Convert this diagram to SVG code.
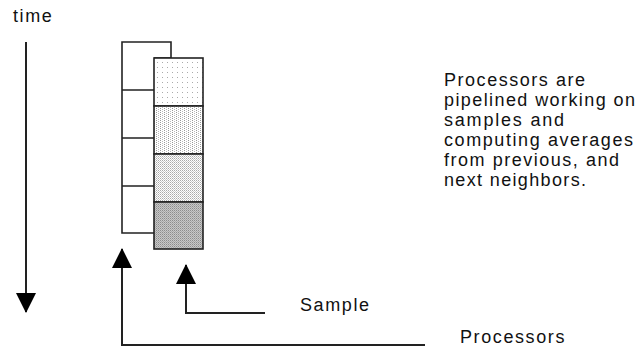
<svg xmlns="http://www.w3.org/2000/svg" width="638" height="348" viewBox="0 0 638 348">
  <style>
    .lbl { font-family: "Liberation Sans", Arial, sans-serif; font-size: 18px; letter-spacing: 1.6px; fill: #111; }
    .para { font-family: "Liberation Sans", Arial, sans-serif; font-size: 18px; fill: #111; }
    .box { fill: none; stroke: #222; stroke-width: 1.6; }
    .cell { stroke: #222; stroke-width: 1.6; }
    .conn { fill: none; stroke: #222; stroke-width: 2; }
  </style>
  <defs>
    <marker id="head" viewBox="0 0 20 20" markerUnits="userSpaceOnUse" markerWidth="20" markerHeight="20" refX="19" refY="10" orient="auto">
      <path d="M0,0 L20,10 L0,20 z" fill="#000"/>
    </marker>
    <!-- shading patterns, light to dark -->
    <pattern id="dots1" width="5" height="5" patternUnits="userSpaceOnUse">
      <rect width="5" height="5" fill="#fff"/>
      <rect x="2" y="2" width="1" height="1" fill="#aaa"/>
    </pattern>
    <pattern id="dots2" width="4" height="2" patternUnits="userSpaceOnUse">
      <rect width="4" height="2" fill="#fff"/>
      <rect x="0" y="0" width="1" height="1" fill="#999"/>
      <rect x="2" y="1" width="1" height="1" fill="#bbb"/>
    </pattern>
    <pattern id="dots3" width="2" height="2" patternUnits="userSpaceOnUse">
      <rect width="2" height="2" fill="#fff"/>
      <rect x="0" y="0" width="1" height="1" fill="#aaa"/>
      <rect x="1" y="1" width="1" height="1" fill="#ccc"/>
    </pattern>
    <pattern id="dots4" width="2" height="2" patternUnits="userSpaceOnUse">
      <rect width="2" height="2" fill="#c8c8c8"/>
      <rect x="0" y="0" width="1" height="1" fill="#8c8c8c"/>
      <rect x="1" y="1" width="1" height="1" fill="#a8a8a8"/>
    </pattern>
  </defs>

  <!-- processor column: four stacked boxes, the first one offset by a step -->
  <g id="processors">
    <path class="box" d="M154,58 H171 V42 H122 V233 H154"/>
    <path class="box" d="M122,90 H154 M122,138 H154 M122,186 H154"/>
  </g>

  <!-- sample column: four shaded cells -->
  <g id="samples">
    <rect class="cell" x="154" y="58" width="49" height="48" fill="url(#dots1)"/>
    <rect class="cell" x="154" y="106" width="49" height="48" fill="url(#dots2)"/>
    <rect class="cell" x="154" y="154" width="49" height="48" fill="url(#dots3)"/>
    <rect class="cell" x="154" y="202" width="49" height="47" fill="url(#dots4)"/>
  </g>

  <g id="time-label">
    <text class="lbl" x="13" y="22">time</text>
  </g>

  <g id="sample-label">
    <text class="lbl" x="300" y="311">Sample</text>
  </g>

  <g id="processors-label">
    <text class="lbl" x="460" y="343">Processors</text>
  </g>

  <g id="note">
    <text class="para" x="444" y="86" textLength="141" lengthAdjust="spacing">Processors are</text>
    <text class="para" x="444" y="106" textLength="191" lengthAdjust="spacing">pipelined working on</text>
    <text class="para" x="444" y="126" textLength="120" lengthAdjust="spacing">samples and</text>
    <text class="para" x="444" y="146" textLength="189" lengthAdjust="spacing">computing averages</text>
    <text class="para" x="444" y="166" textLength="175" lengthAdjust="spacing">from previous, and</text>
    <text class="para" x="444" y="186" textLength="142" lengthAdjust="spacing">next neighbors.</text>
  </g>

  <g id="connectors">
    <path class="conn" d="M26,42 V312" marker-end="url(#head)"/>
    <path class="conn" d="M425,345 H122 V249" marker-end="url(#head)"/>
    <path class="conn" d="M265,313 H186 V265" marker-end="url(#head)"/>
  </g>
</svg>
